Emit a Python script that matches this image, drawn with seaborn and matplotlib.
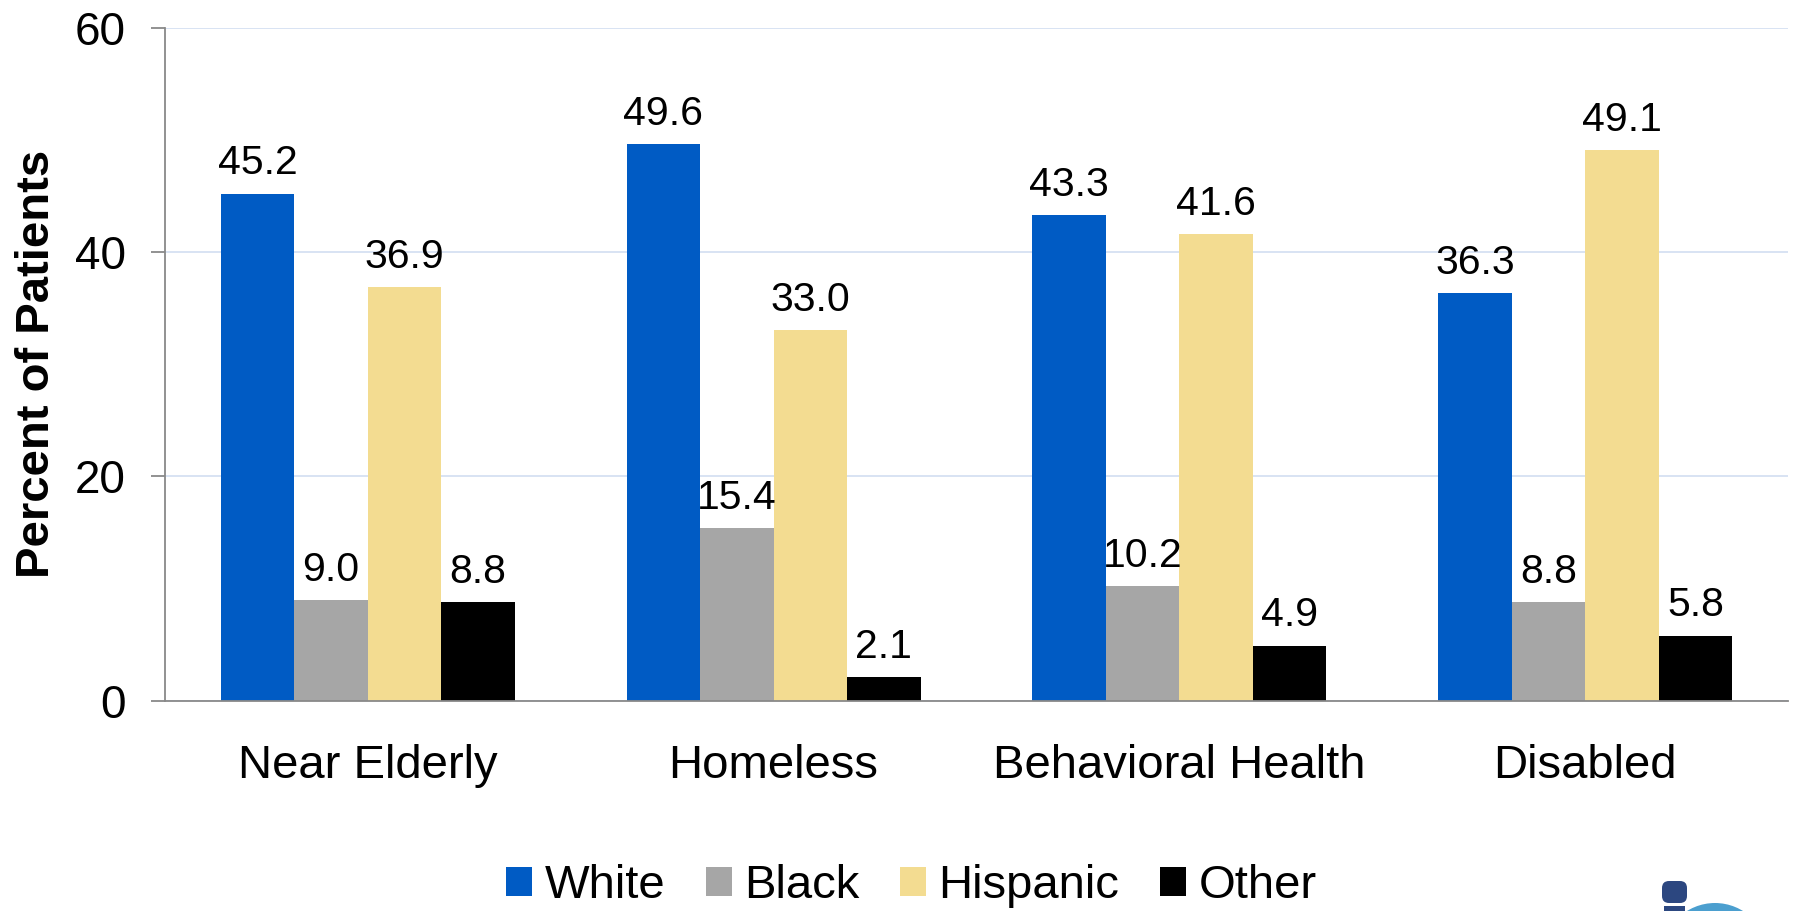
import numpy as np
import pandas as pd
import seaborn as sns
import matplotlib
matplotlib.use("Agg")
import matplotlib.pyplot as plt
from matplotlib.patches import Circle, FancyBboxPatch, Rectangle
from matplotlib.transforms import IdentityTransform

# ---- data ----
groups = ["Near Elderly", "Homeless", "Behavioral Health", "Disabled"]
races = ["White", "Black", "Hispanic", "Other"]
white = [45.2, 49.6, 43.3, 36.3]
black = [9.0, 15.4, 10.2, 8.8]
hispanic = [36.9, 33.0, 41.6, 49.1]
other = [8.8, 2.1, 4.9, 5.8]
y_ticks = [0, 20, 40, 60]
y_label = "Percent of Patients"

colors = {"White": "#005BC4", "Black": "#A6A6A6", "Hispanic": "#F3DC91", "Other": "#000000"}

series = {"White": white, "Black": black, "Hispanic": hispanic, "Other": other}
rows = []
for r in races:
    for g, v in zip(groups, series[r]):
        rows.append({"group": g, "race": r, "pct": v})
df = pd.DataFrame(rows)

sns.set_style("white")
plt.rcParams["font.family"] = ["Liberation Sans", "DejaVu Sans"]
plt.rcParams["text.color"] = "black"
plt.rcParams["axes.labelcolor"] = "black"
plt.rcParams["xtick.color"] = "black"
plt.rcParams["ytick.color"] = "black"

fig = plt.figure(figsize=(18.01, 9.11), dpi=100)
ax = fig.add_axes([0.0916, 0.2310, 0.9012, 0.7387])

sns.barplot(data=df, x="group", y="pct", hue="race", order=groups, hue_order=races,
            palette=colors, saturation=1, width=0.725, gap=0, ax=ax, linewidth=0,
            errorbar=None)

for cont in ax.containers:
    ax.bar_label(cont, fmt="%.1f", padding=8, fontsize=29.5, color="black")

ax.set_ylim(0, 60)
ax.set_xlim(-0.5, 3.5)
ax.set_yticks(y_ticks)
ax.set_xticks(range(len(groups)))
ax.set_xticklabels(groups)
ax.set_xticks(np.arange(-0.5, len(groups), 1.0), minor=True)
ax.tick_params(axis="x", which="major", length=0, labelsize=34, pad=31, labelcolor="black")
ax.tick_params(axis="x", which="minor", length=10, width=1.3, color="#898989", direction="out")
ax.tick_params(axis="y", which="major", length=10, width=1.3, color="#898989",
               direction="out", labelsize=33, pad=18, left=True, labelcolor="black")

ax.yaxis.grid(True, color="#d5e1f2", lw=1.3)
ax.set_axisbelow(True)
for s in ["top", "right"]:
    ax.spines[s].set_visible(False)
for s in ["left", "bottom"]:
    ax.spines[s].set_color("#898989")
    ax.spines[s].set_linewidth(1.3)

ax.set_xlabel("")
ax.set_ylabel(y_label, fontsize=34, fontweight="bold", color="black")
ax.yaxis.set_label_coords(-0.065, 0.5)

sns.move_legend(ax, "center", bbox_to_anchor=(0.506, 0.027), bbox_transform=fig.transFigure,
                ncol=4, frameon=False, title=None, fontsize=34,
                handlelength=0.55, handleheight=0.55, handletextpad=0.27,
                columnspacing=0.85, borderaxespad=0, borderpad=0)
for t in ax.get_legend().get_texts():
    t.set_color("black")

# partial logo at bottom-right
fig.add_artist(Circle((1715, -45), 53, transform=IdentityTransform(),
                      facecolor="#4b9fcf", edgecolor="none"))
fig.add_artist(FancyBboxPatch((1664, 10), 21, 18, boxstyle="round,pad=2,rounding_size=7",
                              transform=IdentityTransform(), facecolor="#2c4780", edgecolor="none"))
fig.add_artist(Rectangle((1664, 0), 21, 5, transform=IdentityTransform(),
                         facecolor="#2c4780", edgecolor="none"))

fig.savefig("out.png", dpi=100)
